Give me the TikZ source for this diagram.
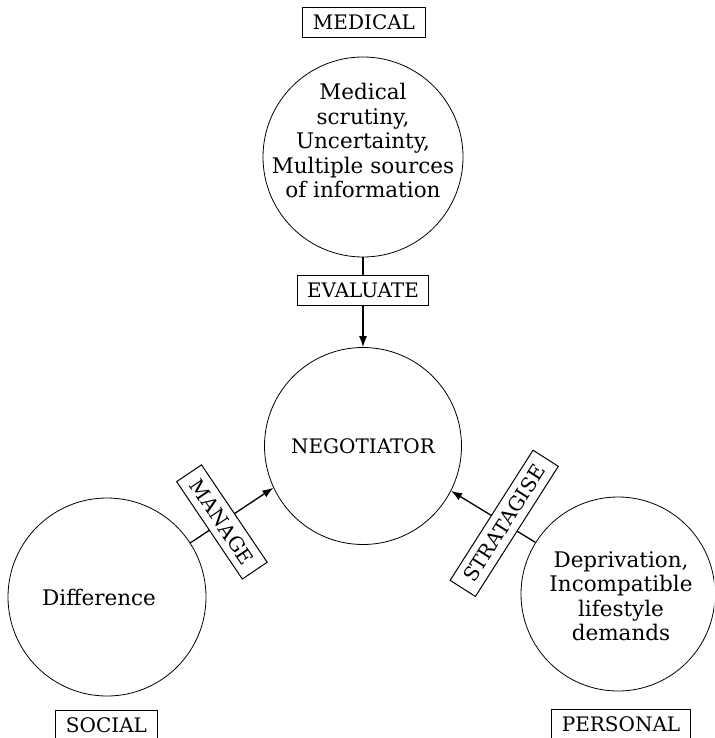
\documentclass[tikz,border=0pt]{standalone}
\usepackage{fontspec}
\setmainfont{DejaVu Serif}
\usetikzlibrary{arrows.meta}
\begin{document}
\begin{tikzpicture}[x=1pt,y=-1pt,
  ring/.style={circle, draw, line width=0.8pt, minimum size=#1, inner sep=0pt},
  tag/.style={draw, line width=1pt, fill=white, inner xsep=10pt, inner ysep=0pt, minimum height=30pt, font=\fontsize{20}{22}\selectfont},
  body/.style={align=center, inner sep=0pt, font=\fontsize{21.5}{24.5}\selectfont},
  link/.style={line width=1.3pt, -{Latex[length=11pt,width=8pt]}},
]
\useasboundingbox (0,0) rectangle (714,738);
\clip (0,0) rectangle (714,738);

% circles
\node[ring=200pt] (top) at (363,157) {};
\node[ring=197pt] (neg) at (363,446) {};
\node[ring=198pt] (left) at (107,597) {};
\node[ring=194pt] (right) at (618,594) {};

% circle texts
\node[body, anchor=north] (topt) at (363,83) {Medical\\scrutiny,\\Uncertainty,\\Multiple sources\\of information};
\node[body, font=\fontsize{20}{22}\selectfont] (negt) at (363,446) {NEGOTIATOR};
\node[body] (leftt) at (99,597) {Difference};
\node[body, anchor=north] (rightt) at (621,551) {Deprivation,\\Incompatible\\lifestyle\\demands};

% category labels
\node[tag] (medical) at (364,22.5) {MEDICAL};
\node[tag] (social) at (106.5,725) {SOCIAL};
\node[tag] (personal) at (621,724) {PERSONAL};

% connectors
\draw[link] (top.south) -- node[tag, pos=0.37] (evaluate) {EVALUATE} (neg.north);
\draw[link] (left.33) -- node[tag, pos=0.38, rotate=-56] (manage) {MANAGE} (neg.205);
\draw[link] (right.148) -- node[tag, pos=0.37, rotate=57.5] (stratagise) {STRATAGISE} (neg.333);
\end{tikzpicture}
\end{document}
